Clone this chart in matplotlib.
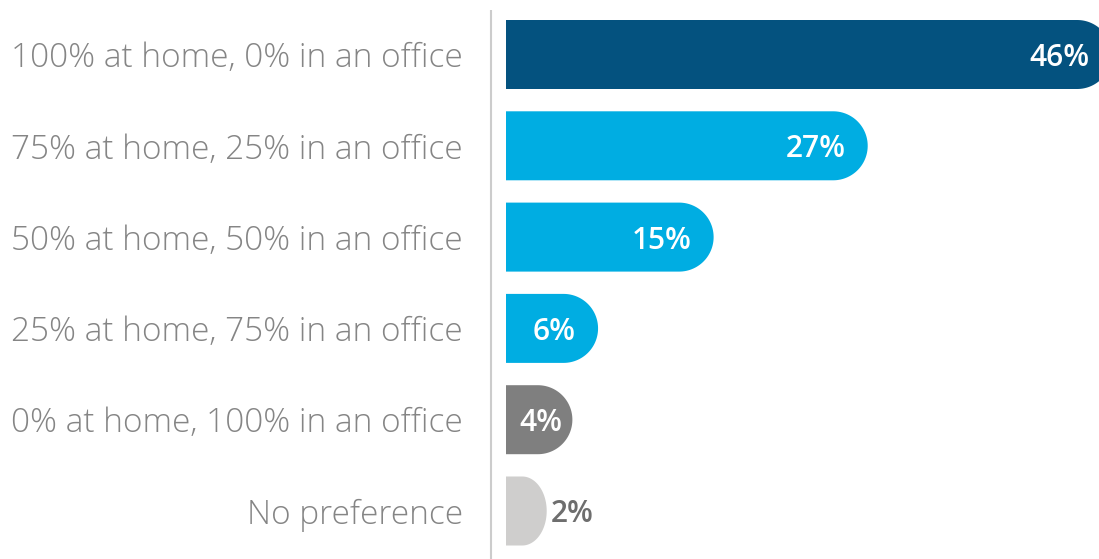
import matplotlib
matplotlib.use("Agg")
import matplotlib.pyplot as plt
import numpy as np
from matplotlib.patches import Polygon

categories = [
    "100% at home, 0% in an office",
    "75% at home, 25% in an office",
    "50% at home, 50% in an office",
    "25% at home, 75% in an office",
    "0% at home, 100% in an office",
    "No preference",
]
shares = [46, 27, 15, 6, 4, 2]
bar_colors = ["#04527f", "#00ade2", "#00ade2", "#00ade2", "#7f7f7f", "#cfcecd"]

W, H, DPI = 1099, 559, 100
plt.rcParams["font.family"] = ["Open Sans", "DejaVu Sans"]

fig = plt.figure(figsize=(W / DPI, H / DPI), dpi=DPI)
ax = fig.add_axes([0, 0, 1, 1])

# pixel geometry of the plotting area
x_zero = 506.0          # left edge of the bars
px_per_pct = 12.84
row0 = 54.5
row_step = 91.3
bar_h_px = 69.0
cap_r_px = 34.5
pad_pct = 1.17          # stub so tiny bars still show a cap

ax.set_xlim(-x_zero / px_per_pct, (W - x_zero) / px_per_pct)
ax.set_ylim((H - row0) / row_step, -row0 / row_step)
ax.axis("off")

def px_x(n):
    return n / px_per_pct

def px_y(n):
    return n / row_step

half_h = px_y(bar_h_px) / 2
for i, (v, c) in enumerate(zip(shares, bar_colors)):
    end = v + pad_pct
    w_px = end * px_per_pct
    rx = px_x(min(cap_r_px, 0.6 * w_px))
    ry = half_h
    t = np.linspace(np.pi / 2, -np.pi / 2, 60)
    xs = (end - rx) + rx * np.cos(t)
    ys = i - ry * np.sin(t)
    pts = [(0, i - half_h)] + list(zip(xs, ys)) + [(0, i + half_h)]
    ax.add_patch(Polygon(pts, closed=True, facecolor=c, edgecolor="none"))

    lbl = f"{v}%"
    if v >= 10:
        ax.text(end - px_x(22), i, lbl, ha="right", va="center_baseline",
                color="white", fontsize=21.5, fontweight="semibold")
    elif v >= 4:
        ax.text(end / 2 + px_x(2), i, lbl, ha="center", va="center_baseline",
                color="white", fontsize=21.5, fontweight="semibold")
    else:
        ax.text(end + px_x(4), i, lbl, ha="left", va="center_baseline",
                color="#6e6e6e", fontsize=21.5, fontweight="semibold")

    ax.text(px_x(463 - x_zero), i, categories[i], ha="right", va="center_baseline",
            color="#858585", fontsize=24, fontweight="light")

# thin separator between labels and bars
ax.plot([px_x(491 - x_zero)] * 2, [px_y(10 - row0), px_y(H - row0)],
        color="#cccccc", lw=1.5, solid_capstyle="butt")

fig.savefig("out.png", dpi=DPI)
